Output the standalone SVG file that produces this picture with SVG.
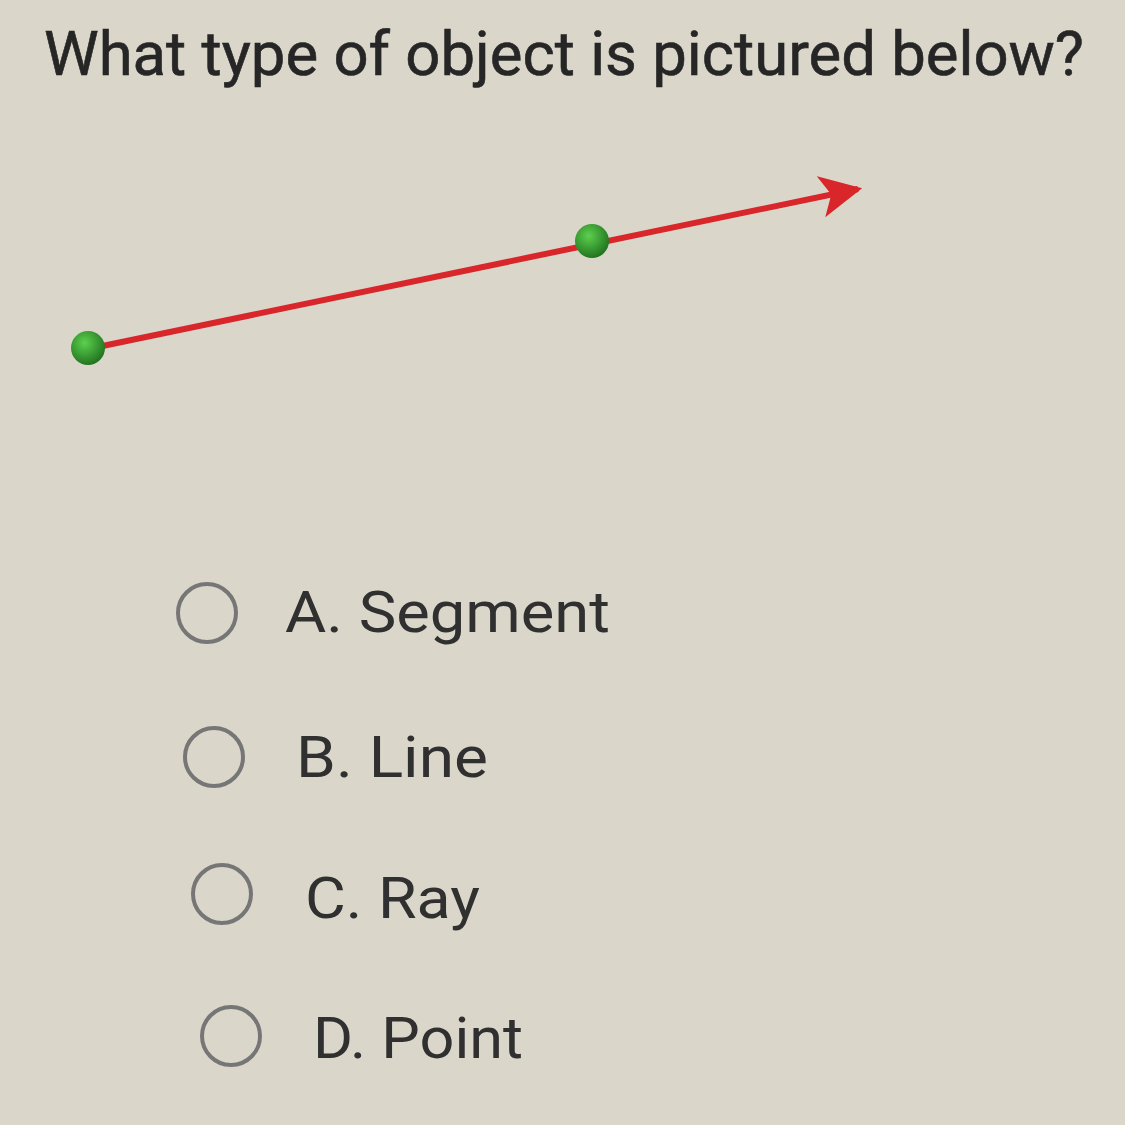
<svg xmlns="http://www.w3.org/2000/svg" width="1125" height="1125" viewBox="0 0 1125 1125">
<defs>
<style>
.title{font-family:Roboto,"Liberation Sans",sans-serif;font-size:62px;fill:#262626;stroke:#262626;stroke-width:0.6;}
.opt{font-family:Roboto,"Liberation Sans",sans-serif;font-size:58px;fill:#303030;}
.radio{fill:none;stroke:#767676;stroke-width:4;}
</style>
<radialGradient id="g" cx="0.4" cy="0.35" r="0.7">
<stop offset="0" stop-color="#5cd04e"/>
<stop offset="1" stop-color="#1e6e1c"/>
</radialGradient>
<marker id="ah" viewBox="0 0 10 10" refX="9" refY="5" markerWidth="7" markerHeight="7" orient="auto" markerUnits="strokeWidth">
<path d="M0,0 L10,5 L0,10 L2.5,5 Z" fill="#d8262a"/>
</marker>
</defs>
<rect width="1125" height="1125" fill="#dad6ca"/>
<text class="title" x="44" y="75" textLength="1040" lengthAdjust="spacingAndGlyphs">What type of object is pictured below?</text>
<g id="connectors">
<line x1="88" y1="349" x2="858" y2="189" stroke="#d8262a" stroke-width="6" marker-end="url(#ah)"/>
</g>
<g id="pointA"><circle cx="88" cy="348" r="17" fill="url(#g)"/></g>
<g id="pointB"><circle cx="592" cy="241" r="17" fill="url(#g)"/></g>
<g id="optA"><circle class="radio" cx="207" cy="613" r="29"/><text class="opt" x="285" y="632" textLength="325" lengthAdjust="spacingAndGlyphs">A. Segment</text></g>
<g id="optB"><circle class="radio" cx="214" cy="757" r="29"/><text class="opt" x="296" y="777" textLength="192" lengthAdjust="spacingAndGlyphs">B. Line</text></g>
<g id="optC"><circle class="radio" cx="222" cy="894" r="29"/><text class="opt" x="305" y="918" textLength="175" lengthAdjust="spacingAndGlyphs">C. Ray</text></g>
<g id="optD"><circle class="radio" cx="231" cy="1036" r="29"/><text class="opt" x="313" y="1058" textLength="210" lengthAdjust="spacingAndGlyphs">D. Point</text></g>
</svg>
